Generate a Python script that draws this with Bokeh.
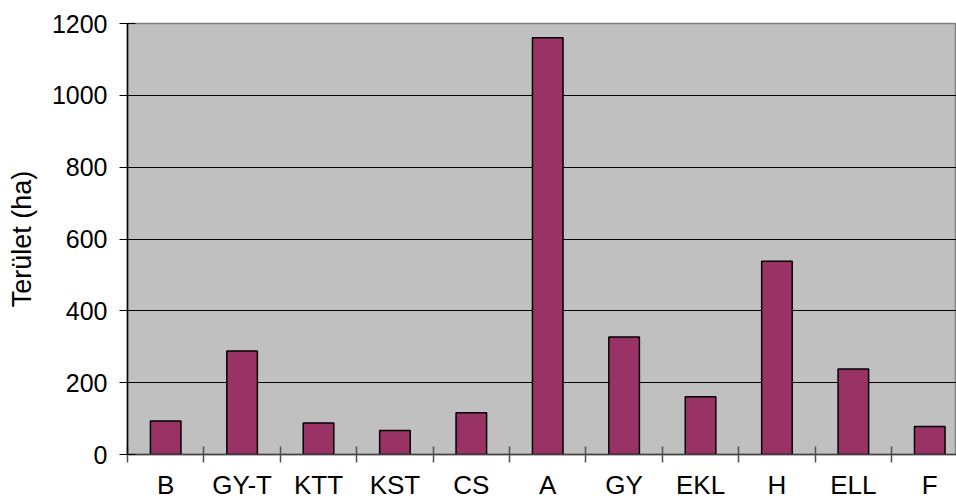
from bokeh.plotting import figure
from bokeh.models import Range1d, FixedTicker, ColumnDataSource
from bokeh.embed import file_html
from bokeh.resources import INLINE

categories = ["B", "GY-T", "KTT", "KST", "CS", "A", "GY", "EKL", "H", "ELL", "F"]
values = [93, 288, 88, 67, 116, 1160, 327, 161, 538, 238, 78]
y_ticks = [0, 200, 400, 600, 800, 1000, 1200]
y_title = "Terület (ha)"

centers = [i + 0.5 for i in range(len(categories))]
src = ColumnDataSource(dict(x=centers, top=values, cat=categories))

FONT = "Liberation Sans"

p = figure(width=956, height=502, output_backend="svg", toolbar_location=None,
           x_range=Range1d(0, 10.85), y_range=Range1d(0, 1200))
p.min_border_left = 127
p.min_border_right = 0
p.min_border_top = 23
p.min_border_bottom = 48
p.background_fill_color = "#C0C0C0"
p.border_fill_color = "white"
p.outline_line_color = "#808080"
p.outline_line_width = 1.5

p.vbar(x="x", top="top", width=0.4, source=src, fill_color="#993366",
       line_color="black", line_width=1.5)

# y axis
yax = p.yaxis[0]
yax.ticker = FixedTicker(ticks=y_ticks)
yax.axis_line_color = "black"
yax.axis_line_width = 1.5
yax.major_tick_line_color = "black"
yax.major_tick_out = 8
yax.major_tick_in = 8
yax.minor_tick_line_color = None
yax.major_label_text_font = FONT
yax.major_label_text_font_size = "25px"
yax.major_label_text_color = "black"
yax.major_label_standoff = 12
yax.axis_label = y_title
yax.axis_label_text_font = FONT
yax.axis_label_text_font_size = "27px"
yax.axis_label_text_font_style = "normal"
yax.axis_label_text_color = "black"
yax.axis_label_standoff = 12

# x axis: boundary ticks as minor ticks, category names at centers
xax = p.xaxis[0]
xax.ticker = FixedTicker(ticks=centers, minor_ticks=list(range(len(categories))))
xax.major_label_overrides = {c: lab for c, lab in zip(centers, categories)}
xax.major_tick_line_color = None
xax.major_tick_out = 8
xax.major_tick_in = 0
xax.minor_tick_line_color = "#505050"
xax.minor_tick_line_width = 1.5
xax.minor_tick_in = 8
xax.minor_tick_out = 8
xax.axis_line_color = "#404040"
xax.axis_line_width = 1.5
xax.major_label_text_font = FONT
xax.major_label_text_font_size = "26px"
xax.major_label_text_color = "black"
xax.major_label_standoff = 7

p.xgrid.grid_line_color = None
p.ygrid.ticker = FixedTicker(ticks=[200, 400, 600, 800, 1000])
p.ygrid.grid_line_color = "black"
p.ygrid.grid_line_width = 1

open("out.html", "w").write(file_html(p, INLINE))
